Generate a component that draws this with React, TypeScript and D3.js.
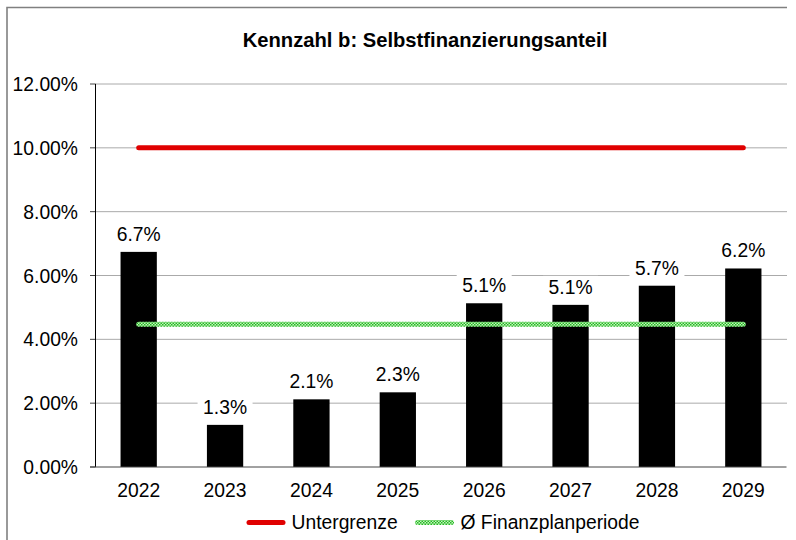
import React from 'react';
import * as d3 from 'd3';

const years = ['2022', '2023', '2024', '2025', '2026', '2027', '2028', '2029'];
const anteil = [6.74, 1.32, 2.12, 2.34, 5.13, 5.08, 5.68, 6.22];
const untergrenze = 10;
const durchschnitt = 4.47;
const yTicks = [0, 2, 4, 6, 8, 10, 12];
const title = 'Kennzahl b: Selbstfinanzierungsanteil';
const legendLabels = ['Untergrenze', 'Ø Finanzplanperiode'];

const W = 796;
const H = 540;
const plot = { left: 95.5, right: 786.5, top: 84, bottom: 467 };
const font = '"Liberation Sans", Arial, sans-serif';

const App = () => {
  const x = d3
    .scaleBand<string>()
    .domain(years)
    .range([plot.left, plot.right])
    .paddingInner(0.58)
    .paddingOuter(0.29);
  const y = d3.scaleLinear().domain([0, 12]).range([plot.bottom, plot.top]);
  const cx = (d: string) => (x(d) as number) + x.bandwidth() / 2;

  const line = d3
    .line<string>()
    .x((d) => cx(d));
  const first = years[0];
  const last = years[years.length - 1];

  return (
    <svg
      width={W}
      height={H}
      style={{ position: 'absolute', left: 0, top: 0, fontFamily: font }}
    >
      <defs>
        <pattern id="karo" width="3" height="3" patternUnits="userSpaceOnUse">
          <rect width="3" height="3" fill="#c4f2bc" />
          <rect width="1.5" height="1.5" fill="#22b822" />
          <rect x="1.5" y="1.5" width="1.5" height="1.5" fill="#22b822" />
        </pattern>
      </defs>
      <rect width={W} height={H} fill="#fff" />
      {/* Rahmen: nur oben und links sichtbar */}
      <path d="M7,541 V7.5 H787" fill="none" stroke="#808080" strokeWidth={1.6} />

      <text x={425} y={47} textAnchor="middle" fontWeight="bold" fontSize={20.2} fill="#000">
        {title}
      </text>

      {/* Gitternetz + Achsenbeschriftung */}
      {yTicks.map((t) => (
        <g key={t}>
          {t > 0 && (
            <line
              x1={plot.left}
              x2={plot.right}
              y1={y(t)}
              y2={y(t)}
              stroke="#555"
              strokeWidth={1}
              strokeDasharray="1 1"
            />
          )}
          <line x1={plot.left - 5.5} x2={plot.left} y1={y(t)} y2={y(t)} stroke="#444" strokeWidth={1} />
          <text x={78} y={y(t) + 7} textAnchor="end" fontSize={19.3} fill="#000">
            {t.toFixed(2) + '%'}
          </text>
        </g>
      ))}

      {/* Balken */}
      {years.map((d, i) => (
        <rect
          key={d}
          x={x(d)}
          y={y(anteil[i])}
          width={x.bandwidth()}
          height={y(0) - y(anteil[i])}
          fill="#000"
        />
      ))}

      {/* Achsen */}
      <line x1={plot.left} x2={plot.left} y1={plot.top} y2={plot.bottom} stroke="#000" strokeWidth={1} />
      <line x1={plot.left - 5.5} x2={plot.right} y1={plot.bottom} y2={plot.bottom} stroke="#444" strokeWidth={1} />

      {years.map((d) => (
        <text key={d} x={cx(d)} y={497} textAnchor="middle" fontSize={19.3} fill="#000">
          {d}
        </text>
      ))}

      {/* Linien */}
      <path
        d={line.y(() => y(untergrenze))([first, last]) as string}
        stroke="#e00000"
        strokeWidth={5}
        strokeLinecap="round"
        fill="none"
      />
      <path
        d={line.y(() => y(durchschnitt))([first, last]) as string}
        stroke="url(#karo)"
        strokeWidth={5}
        strokeLinecap="round"
        fill="none"
      />

      {/* Datenbeschriftung */}
      {years.map((d, i) => {
        const ty = y(anteil[i]) - 11;
        return (
          <g key={d}>
            <rect x={cx(d) - 27.5} y={ty - 18} width={55} height={24} fill="#fff" />
            <text x={cx(d)} y={ty} textAnchor="middle" fontSize={19.3} fill="#000">
              {anteil[i].toFixed(1) + '%'}
            </text>
          </g>
        );
      })}

      {/* Legende */}
      <line x1={249} x2={283} y1={522.5} y2={522.5} stroke="#e00000" strokeWidth={5} strokeLinecap="round" />
      <text x={291.5} y={529} fontSize={19.3} fill="#000">
        {legendLabels[0]}
      </text>
      <line x1={417.5} x2={451.5} y1={522.5} y2={522.5} stroke="url(#karo)" strokeWidth={5} strokeLinecap="round" />
      <text x={460.5} y={529} fontSize={19.3} fill="#000">
        {legendLabels[1]}
      </text>
    </svg>
  );
};

export default App;
